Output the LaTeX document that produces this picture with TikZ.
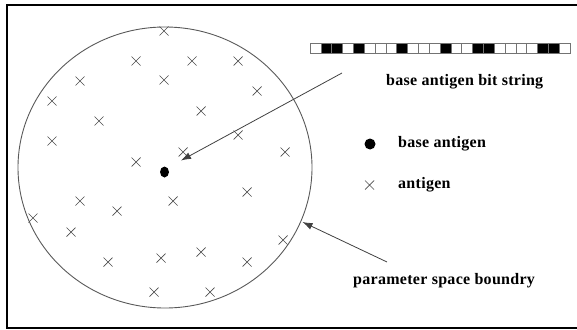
\documentclass[tikz,border=0pt]{standalone}
\usepackage{fontspec}
\setmainfont{Liberation Serif}
\newfontfamily\lblfont[LetterSpace=1.8]{Liberation Serif}
\usetikzlibrary{arrows.meta,shapes.geometric}
\begin{document}
\begin{tikzpicture}[x=1pt,y=-1pt,
  antx/.style={draw=black!70,line width=0.7pt},
  lbl/.style={anchor=west,inner sep=0pt,font=\lblfont\fontsize{16}{18}\selectfont\bfseries},
  pointer/.style={draw=black!75,line width=0.8pt,-{Latex[length=10pt,width=7pt]}},
  bitw/.style={draw=black!55,fill=white,line width=0.6pt},
  bitb/.style={draw=black!55,fill=black,line width=0.6pt}]
\useasboundingbox (0,0) rectangle (577,329);
% frame
\draw[line width=2pt] (580,5) -- (7,5) -- (7,327.5) -- (580,327.5);
% parameter space
\draw[draw=black!65,line width=0.9pt] (165,167.5) ellipse [x radius=147, y radius=140.5];
% antigens
\foreach \x/\y in {164/31,136/61,192/61,238/61,80/81,164/80,257/91,52/101,201/111,99/121,
  238/135,52/141,183/152,285/152,136/162,247/192,80/201,173/201,117/211,33/218,71/232,
  283/240,201/252,108/262,161/258,247/262,154/292,210/292}
  \draw[antx] (\x-4.5,\y-4.5) -- (\x+4.5,\y+4.5) (\x-4.5,\y+4.5) -- (\x+4.5,\y-4.5);
% base antigen
\node[fill=black,ellipse,minimum width=9pt,minimum height=11pt,inner sep=0pt] (base) at (164.5,172) {};
% bit string
\foreach \b [count=\i from 0] in {0,1,1,0,1,0,0,0,1,0,0,0,1,0,0,1,1,0,0,0,0,1,1,0}{
  \ifnum\b=1 \def\st{bitb}\else\def\st{bitw}\fi
  \draw[\st] (310+\i*10.833,43.5) rectangle (310+\i*10.833+10.833,53.5);
}
\node[lbl] (bitlbl) at (386,82) {base antigen bit string};
% legend
\node[fill=black,ellipse,minimum width=11pt,minimum height=11pt,inner sep=0pt] (legdot) at (370,144) {};
\node[lbl] (baselbl) at (398,144) {base antigen};
\draw[antx] (365,180.5) -- (374,189.5) (365,189.5) -- (374,180.5);
\node[lbl] (antlbl) at (398,185) {antigen};
\node[lbl] (bndlbl) at (353,281) {parameter space boundry};
% pointers
\coordinate (p1s) at (342,73);
\coordinate (p1e) at (181,160.5);
\coordinate (p2s) at (387,262);
\coordinate (p2e) at (302.5,222);
\draw[pointer] (p1s) -- (p1e);
\draw[pointer] (p2s) -- (p2e);
\end{tikzpicture}
\end{document}
